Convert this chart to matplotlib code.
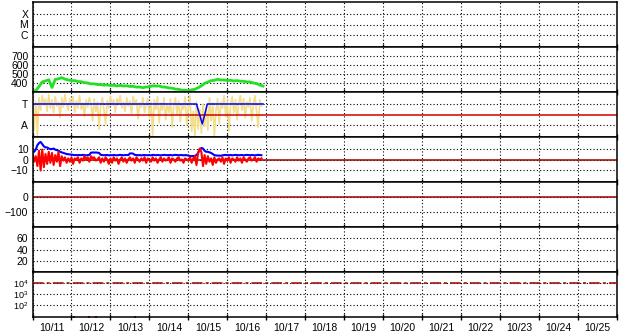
import numpy as np
import matplotlib
matplotlib.use('Agg')
import matplotlib.pyplot as plt
from matplotlib.ticker import FixedLocator, NullLocator, NullFormatter

plt.rcParams['font.family'] = ['Liberation Sans Narrow', 'Liberation Sans', 'DejaVu Sans']
plt.rcParams['mathtext.default'] = 'regular'

day_labels = ['10/11', '10/12', '10/13', '10/14', '10/15', '10/16', '10/17', '10/18',
              '10/19', '10/20', '10/21', '10/22', '10/23', '10/24', '10/25']

# solar wind speed, every 2 hours from 10/11 00:00
speed_hours = np.arange(0, 144, 2)
speed = [312, 314, 362, 412, 423, 436, 350, 440, 446, 460,
         443, 434, 426, 427, 416, 414, 404, 400, 390, 391,
         383, 382, 376, 379, 372, 375, 368, 373, 367, 369,
         362, 363, 354, 356, 348, 356, 358, 369, 366, 367,
         356, 354, 346, 342, 332, 330, 320, 320, 314, 324,
         330, 348, 368, 397, 410, 426, 430, 441, 434, 434,
         428, 430, 423, 426, 420, 420, 412, 412, 400, 394,
         378, 366]

# hourly series
hours = np.arange(142)
phi = [1.9, -1.5, 1.2, -2.0, 1.6, 0.4, 1.8, 0.9, 1.5, 0.3, 1.9, 0.6,
       1.4, 0.2, 1.7, 0.8, 1.2, -0.3, 1.6, 0.7, 1.9, 1.0, 0.4, 1.5,
       0.9, 1.7, 0.2, 1.3, 0.6, 1.8, 0.5, 1.1, -0.2, 1.4, 0.7, 1.6,
       1.0, -0.6, 1.5, 0.3, 1.2, -1.4, 0.8, 1.6, 0.4, -0.9, 1.3, 0.6,
       1.7, 0.9, 1.4, 0.2, 1.5, 1.0, 1.8, 0.6, 1.2, 0.3, 1.6, 0.8,
       1.3, 0.1, 1.7, 0.9, 1.4, -0.4, 1.1, 0.7, 1.6, 0.2, 1.0, 1.5,
       -0.3, 1.2, -2.0, 1.4, 0.5, 1.7, -0.8, 1.1, 0.4, 1.6, -0.5, 1.0,
       0.2, 1.5, -1.2, 0.9, 1.6, 0.0, 1.3, -0.7, 1.0, 0.5, 1.7, -1.0,
       0.6, 1.8, -1.6, 0.3, -2.0, 1.2, -1.4, 0.5, -1.8, 1.0, -1.1, 0.8,
       -1.5, 1.6, -0.6, 1.1, -2.0, 0.4, 1.5, -0.9, 1.2, 0.6, 1.8, -0.2,
       1.3, -1.6, 0.9, 1.7, 0.2, 1.4, -0.5, 1.1, 1.8, 0.4, 1.5, -0.3,
       1.2, 0.7, 1.6, -0.6, 1.0, 1.8, 0.3, -1.2, 1.4, 0.8]

bt = [7, 7, 9, 13, 15, 16, 14, 12, 11, 11, 10, 9.5,
      9.5, 10, 9, 8.5, 8, 7, 6.5, 6, 5.5, 5, 4.8, 4.6,
      4.5, 4.2, 4, 4, 4.1, 3.9, 4, 4.2, 4, 3.8, 4, 4.2,
      6.2, 6.4, 6.3, 6.4, 6.2, 6, 4.2, 4, 3.9, 4, 4.1, 3.8,
      4, 3.9, 4.1, 4, 3.8, 4, 4.2, 4, 3.9, 4, 4.1, 4,
      5.5, 5.6, 5.3, 4.2, 4, 3.9, 4, 3.8, 4, 4.1, 3.9, 4,
      4, 3.8, 4.2, 4, 3.9, 4.1, 4, 3.8, 4, 4.2, 4, 3.9,
      4, 4.1, 3.8, 4, 4.2, 4, 3.9, 4, 4.1, 3.8, 4, 3.9,
      3.5, 3.2, 3, 3.1, 3.3, 4, 6, 9, 10.5, 10, 8, 7,
      7, 6.5, 6, 5, 4, 3.8, 3.5, 3.6, 3.4, 3.8, 4, 4.2,
      3.9, 4, 4.1, 3.8, 4, 4.2, 4, 3.9, 4, 4.1, 3.8, 4,
      4.2, 4, 3.9, 4.1, 4, 3.8, 4, 4.2, 4, 3.9]

bz = [6, -2, 3, -6, 8, -10, 9, -7, 5, -4, 7, -3,
      6, -5, 4, -2, 7, -6, 3, -1, 2, -3, 1, -2,
      2, -4, 1, 0, 2, -3, 1, -1, 3, 0, 2, -2,
      3, 1, 2, -1, 0, 2, -3, 1, -2, 2, 0, -4,
      1, -3, 2, -1, 1, -4, 0, 2, -2, 1, -3, 0,
      2, -1, 1, -3, 2, 0, -2, 1, -1, 2, -3, 1,
      0, -2, 2, -1, 1, -3, 0, 2, -2, 1, -1, 0,
      2, -3, 1, 0, -2, 1, 2, -1, 0, -3, 1, 0,
      -1, 2, -3, 1, 3, -5, 6, 10, 7, -6, 4, -4,
      3, -2, 1, -5, 2, -3, 0, 1, -2, 2, -4, 1,
      -1, 2, -3, 1, 0, -2, 2, -1, 1, -3, 2, 0,
      -2, 1, 2, -1, 0, 2, -2, 1, 0, 1]

# sector polarity (T = +1, A = -1)
pol_hours = [0, 101, 104.6, 107.7, 142]
pol_vals = [1, 1, -0.9, 1, 1]

# low proton flux points
proton_hours = [25.6, 34.8, 39.1, 63.1]
proton_vals = [8.6, 8.6, 8.6, 8.6]

W, H = 628, 334
fig, axes = plt.subplots(7, 1, sharex=True, figsize=(W / 100, H / 100), dpi=100)
fig.subplots_adjust(left=32.5 / W, right=617 / W, top=1 - 2 / H, bottom=1 - 317 / H, hspace=0)

grid_kw = dict(color='black', linewidth=0.8, linestyle=(0, (1, 2)))
for ax in axes:
    ax.set_xlim(0, 15)
    ax.xaxis.set_major_locator(FixedLocator(np.arange(0, 16)))
    ax.xaxis.set_major_formatter(NullFormatter())
    ax.xaxis.set_minor_locator(FixedLocator(np.arange(15) + 0.5))
    ax.tick_params(axis='x', which='major', direction='inout', length=4, width=1, color='black')
    ax.tick_params(axis='x', which='minor', length=0)
    ax.tick_params(axis='y', which='both', length=0, pad=3, labelsize=7.5)
    ax.grid(True, axis='both', which='major', **grid_kw)
    for s in ax.spines.values():
        s.set_linewidth(1.1)
    ax.set_axisbelow(True)

axes[-1].xaxis.set_minor_formatter(plt.FixedFormatter(day_labels))
axes[-1].tick_params(axis='x', which='minor', labelsize=7.5, pad=4)

# X-ray flare class
ax = axes[0]
ax.set_yscale('log')
ax.set_ylim(10 ** -7.14, 10 ** -2.86)
ax.yaxis.set_major_locator(FixedLocator([1e-6, 1e-5, 1e-4]))
ax.yaxis.set_major_formatter(plt.FixedFormatter(['C', 'M', 'X']))
ax.yaxis.set_minor_locator(NullLocator())

# solar wind speed
ax = axes[1]
ax.set_ylim(300, 800)
ax.set_yticks([400, 500, 600, 700])
ax.plot(speed_hours / 24, speed, color='#22e022', linewidth=2)

# sector / phi
ax = axes[2]
ax.set_ylim(-2.14, 2.14)
ax.set_yticks([1, -1])
ax.set_yticklabels(['T', 'A'])
ax.plot(hours / 24, phi, color='#f3de8a', linewidth=1.2)
ax.axhline(0, color='#d00000', linewidth=1.1)
ax.plot(np.array(pol_hours) / 24, pol_vals, color='#0000ff', linewidth=1.1)

# IMF Bt / Bz
ax = axes[3]
ax.set_ylim(-20.5, 20.5)
ax.set_yticks([10, 0, -10])
ax.axhline(0, color='#a00000', linewidth=1.1)
ax.plot(hours / 24, bt, color='#0000ff', linewidth=1.5)
ax.plot(hours / 24, bz, color='#ff0000', linewidth=1.5)

# Dst
ax = axes[4]
ax.set_ylim(-200, 100)
ax.set_yticks([0, -100])
ax.axhline(0, color='#a00000', linewidth=1.1)

# density
ax = axes[5]
ax.set_ylim(0, 80)
ax.set_yticks([60, 40, 20])

# protons
ax = axes[6]
ax.set_yscale('log')
ax.set_ylim(8, 1e5)
ax.yaxis.set_major_locator(FixedLocator([1e2, 1e3, 1e4]))
ax.yaxis.set_major_formatter(plt.FixedFormatter([r'$10^2$', r'$10^3$', r'$10^4$']))
ax.yaxis.set_minor_locator(NullLocator())
ax.tick_params(axis='y', labelsize=6.5)
ax.axhline(1e4, color='#a00000', linewidth=1.1, linestyle=(0, (7, 2, 2, 2)), zorder=3)
ax.plot(np.array(proton_hours) / 24, proton_vals, 's', color='#ff0000', markersize=1.5,
        markeredgewidth=0, clip_on=False)

fig.savefig('out.png', dpi=100, facecolor='white')
